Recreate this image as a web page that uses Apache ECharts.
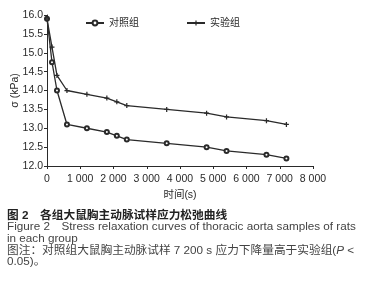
<!DOCTYPE html>
<html><head><meta charset="utf-8">
<script src="https://cdn.jsdelivr.net/npm/echarts@6/dist/echarts.min.js"></script>
<style>html,body{margin:0;padding:0;background:#fff}#c{width:373px;height:300px}</style>
</head><body><div id="c"></div>
<script>
const times = [0, 150, 300, 600, 1200, 1800, 2100, 2400, 3600, 4800, 5400, 6600, 7200];
const controlVals = [15.9, 14.75, 14.0, 13.1, 13.0, 12.9, 12.8, 12.7, 12.6, 12.5, 12.4, 12.3, 12.2];
const expVals = [15.9, 15.15, 14.4, 14.0, 13.9, 13.8, 13.7, 13.6, 13.5, 13.4, 13.3, 13.2, 13.1];
const seriesNames = ['对照组', '实验组'];
const xName = '时间(s)';
const yName = 'σ (kPa)';
const captionLines = [
  '图 2　各组大鼠胸主动脉试样应力松弛曲线',
  'Figure 2　Stress relaxation curves of thoracic aorta samples of rats',
  'in each group',
  '图注：对照组大鼠胸主动脉试样 7 200 s 应力下降量高于实验组({i|P} <',
  '0.05)。'
];
const font = '"Liberation Sans", Arial, "Noto Sans CJK SC", sans-serif';
const ink = '#2a2a2a';
const plus = 'path://M3,0H5V3H8V5H5V8H3V5H0V3H3Z';
const chart = echarts.init(document.getElementById('c'), null, {renderer: 'canvas'});
function fmtX(v){ return String(v).replace(/\B(?=(\d{3})+(?!\d))/g, ' '); }
const captionY = [215.5, 227, 238.5, 250.5, 262];
chart.setOption({
  animation: false,
  textStyle: {fontFamily: font},
  grid: {left: 47, right: 60, top: 15, bottom: 134, containLabel: false, outerBoundsMode: 'none'},
  legend: {
    top: 18, left: 85, padding: 0, itemGap: 47, itemWidth: 18, itemHeight: 6,
    textStyle: {fontSize: 10, color: ink, fontFamily: font},
    data: seriesNames
  },
  xAxis: {
    type: 'value', min: 0, max: 8000, interval: 1000,
    name: xName, nameLocation: 'middle', nameGap: 24, nameMoveOverlap: false,
    nameTextStyle: {fontSize: 10.5, color: ink},
    axisLine: {lineStyle: {color: ink, width: 1}},
    axisTick: {show: true, length: 3, lineStyle: {color: ink}},
    axisLabel: {fontSize: 10.5, color: ink, margin: 8, formatter: fmtX},
    splitLine: {show: false}
  },
  yAxis: {
    type: 'value', min: 12, max: 16, interval: 0.5,
    name: yName, nameLocation: 'middle', nameGap: 27, nameRotate: 90, nameMoveOverlap: false,
    nameTextStyle: {fontSize: 10.5, color: ink},
    axisLine: {show: true, lineStyle: {color: ink, width: 1}},
    axisTick: {show: true, length: 3, lineStyle: {color: ink}},
    axisLabel: {fontSize: 10.5, color: ink, margin: 4, formatter: v => v.toFixed(1)},
    splitLine: {show: false}
  },
  series: [
    {
      name: seriesNames[0], type: 'line',
      data: times.map((t, i) => [t, controlVals[i]]),
      symbol: 'emptyCircle', symbolSize: 4,
      lineStyle: {color: ink, width: 1.3},
      itemStyle: {color: ink, borderColor: ink, borderWidth: 1.5}
    },
    {
      name: seriesNames[1], type: 'line',
      data: times.map((t, i) => [t, expVals[i]]),
      symbol: plus, symbolSize: 5,
      lineStyle: {color: ink, width: 1.3},
      itemStyle: {color: ink}
    }
  ],
  graphic: captionLines.map((txt, i) => ({
    type: 'text', x: 7, y: captionY[i],
    style: {
      text: txt, fill: i === 0 ? '#222' : '#444',
      verticalAlign: 'middle',
      font: (i === 0 ? 'bold ' : '') + '11.7px ' + font,
      rich: {i: {fontStyle: 'italic', fontSize: 11.7, fontFamily: font, fill: '#444'}}
    }
  }))
});
</script></body></html>
